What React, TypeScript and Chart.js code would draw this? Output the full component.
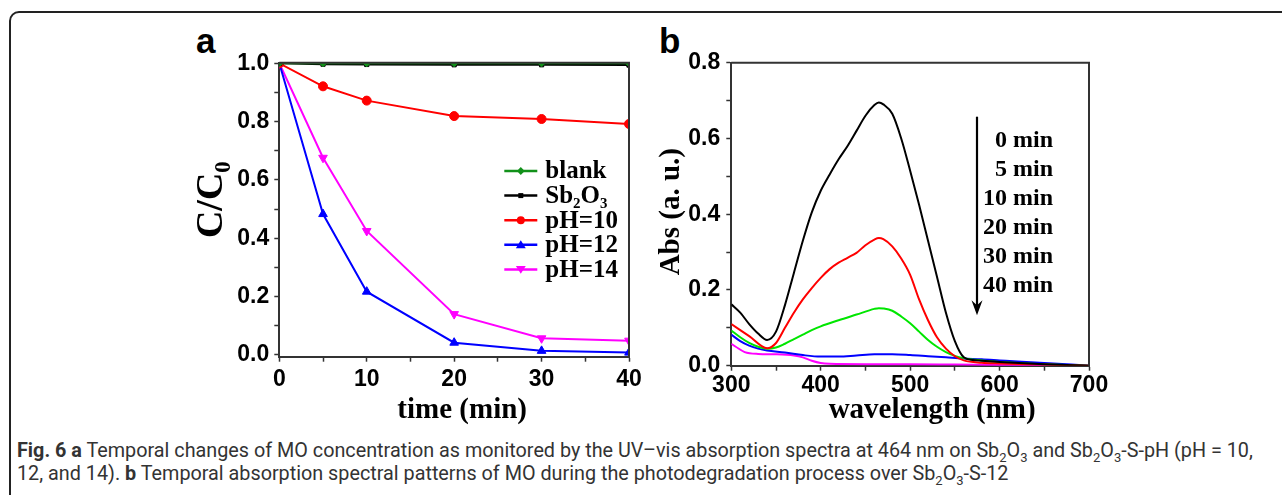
import React, { useEffect, useRef } from "react";
import { Chart, registerables } from "chart.js";

Chart.register(...registerables);

// ---------- Panel a data ----------
const timeMin = [0, 5, 10, 20, 30, 40];
const blank = [1.0, 1.0, 1.0, 1.0, 1.0, 1.0];
const sb2o3 = [1.0, 0.997, 0.996, 0.995, 0.995, 0.994];
const ph10 = [1.0, 0.921, 0.872, 0.819, 0.809, 0.792];
const ph12 = [1.0, 0.483, 0.217, 0.042, 0.014, 0.008];
const ph14 = [1.0, 0.676, 0.425, 0.14, 0.057, 0.049];
const seriesNamesA = ["blank", "Sb₂O₃", "pH=10", "pH=12", "pH=14"];
const yTicksA = [0, 0.1, 0.2, 0.3, 0.4, 0.5, 0.6, 0.7, 0.8, 0.9, 1.0];
const xTicksA = [0, 5, 10, 15, 20, 25, 30, 35, 40];
const xTitleA = "time (min)";
const yTitleA = "C/C₀";

// ---------- Panel b data ----------
const wl0 = [300, 310, 320, 330, 340, 350, 360, 370, 380, 390, 400, 410, 420, 430, 440, 450, 460, 465, 470, 480, 490, 500, 510, 520, 530, 540, 550, 560, 570, 580, 600, 650, 700];
const abs0 = [0.162, 0.14, 0.11, 0.085, 0.068, 0.09, 0.16, 0.245, 0.33, 0.405, 0.462, 0.505, 0.545, 0.58, 0.62, 0.66, 0.688, 0.695, 0.69, 0.665, 0.6, 0.515, 0.425, 0.33, 0.235, 0.14, 0.065, 0.022, 0.015, 0.013, 0.01, 0.004, 0.0];
const wl5 = [300, 320, 340, 350, 360, 370, 380, 390, 400, 410, 420, 430, 440, 450, 460, 465, 470, 480, 490, 500, 510, 520, 530, 540, 550, 560, 580, 600, 650, 700];
const abs5 = [0.11, 0.078, 0.046, 0.06, 0.1, 0.14, 0.175, 0.205, 0.232, 0.255, 0.272, 0.285, 0.298, 0.318, 0.333, 0.337, 0.334, 0.315, 0.283, 0.24, 0.175, 0.12, 0.075, 0.045, 0.025, 0.014, 0.008, 0.006, 0.003, 0.0];
const wl10 = [300, 310, 320, 330, 340, 350, 360, 370, 380, 390, 400, 420, 440, 460, 465, 470, 480, 490, 500, 510, 520, 530, 540, 550, 560, 580, 600, 650, 700];
const abs10 = [0.093, 0.075, 0.06, 0.05, 0.045, 0.048, 0.058, 0.07, 0.082, 0.094, 0.104, 0.12, 0.135, 0.15, 0.152, 0.151, 0.145, 0.13, 0.112, 0.09, 0.068, 0.05, 0.036, 0.026, 0.02, 0.014, 0.01, 0.004, 0.0];
const wl20 = [300, 310, 320, 330, 340, 360, 380, 400, 420, 440, 460, 480, 500, 520, 540, 560, 580, 600, 620, 650, 680, 700];
const abs20 = [0.082, 0.065, 0.053, 0.045, 0.04, 0.035, 0.028, 0.024, 0.024, 0.027, 0.03, 0.03, 0.028, 0.025, 0.022, 0.019, 0.017, 0.014, 0.011, 0.007, 0.003, 0.0];
const wl30 = [300, 305, 315, 330, 350, 370, 380, 390, 400, 410, 450, 500, 550, 600, 650, 700];
const abs30 = [0.058, 0.05, 0.036, 0.031, 0.03, 0.027, 0.022, 0.013, 0.007, 0.005, 0.004, 0.004, 0.003, 0.002, 0.001, 0.0];
const timeLabelsB = ["0 min", "5 min", "10 min", "20 min", "30 min", "40 min"];
const yTicksB = [0, 0.1, 0.2, 0.3, 0.4, 0.5, 0.6, 0.7, 0.8];
const xTicksB = [300, 350, 400, 450, 500, 550, 600, 650, 700];
const xTitleB = "wavelength (nm)";
const yTitleB = "Abs (a. u.)";

const AXIS = "#333333";
const TICK_FONT = { family: "'Liberation Sans', Arial, sans-serif", size: 23, weight: "bold" as const };
const SERIF = "'Liberation Serif', 'Times New Roman', serif";

const framePlugin = {
  id: "frame",
  afterDraw(chart: any) {
    const { ctx, chartArea: a } = chart;
    ctx.save();
    ctx.strokeStyle = AXIS;
    ctx.lineWidth = 2;
    ctx.beginPath();
    ctx.moveTo(a.left, a.top);
    ctx.lineTo(a.right, a.top);
    ctx.lineTo(a.right, a.bottom);
    ctx.stroke();
    ctx.restore();
  },
};

// axis titles placed relative to the chart area
type TitleSpec = { text: string; dx: number; dy: number; size: number; from: "bottom" | "left" };
const titlesPlugin = (specs: TitleSpec[]) => ({
  id: "axisTitles",
  afterDraw(chart: any) {
    const { ctx, chartArea: a } = chart;
    ctx.save();
    ctx.fillStyle = "#000";
    ctx.textAlign = "center";
    ctx.textBaseline = "middle";
    specs.forEach((s) => {
      ctx.font = `bold ${s.size}px ${SERIF}`;
      if (s.from === "bottom") {
        ctx.fillText(s.text, (a.left + a.right) / 2 + s.dx, a.bottom + s.dy);
      } else {
        ctx.save();
        ctx.translate(a.left + s.dx, a.top + s.dy);
        ctx.rotate(-Math.PI / 2);
        ctx.fillText(s.text, 0, 0);
        ctx.restore();
      }
    });
    ctx.restore();
  },
});

const setTicks = (values: number[]) => (scale: any) => {
  scale.ticks = values.map((v) => ({ value: v }));
};

function drawMarker(ctx: CanvasRenderingContext2D, style: string, rot: number, x: number, y: number, r: number) {
  ctx.save();
  ctx.translate(x, y);
  ctx.rotate((rot * Math.PI) / 180);
  ctx.beginPath();
  if (style === "circle") {
    ctx.arc(0, 0, r, 0, Math.PI * 2);
  } else if (style === "rect") {
    ctx.rect(-r, -r, 2 * r, 2 * r);
  } else if (style === "rectRot") {
    ctx.moveTo(0, -r * 1.3);
    ctx.lineTo(r * 1.3, 0);
    ctx.lineTo(0, r * 1.3);
    ctx.lineTo(-r * 1.3, 0);
    ctx.closePath();
  } else if (style === "triangle") {
    const h = r * 1.5;
    ctx.moveTo(0, -h * 0.66);
    ctx.lineTo(r * 1.1, h * 0.5);
    ctx.lineTo(-r * 1.1, h * 0.5);
    ctx.closePath();
  }
  ctx.fill();
  ctx.restore();
}

const axisCommon = {
  grid: { drawOnChartArea: false, color: AXIS, tickLength: 5, tickWidth: 1.5 },
  border: { color: AXIS, width: 2 },
};

function PanelA() {
  const ref = useRef<HTMLCanvasElement>(null);
  useEffect(() => {
    const legendPlugin = {
      id: "legendA",
      afterDraw(chart: any) {
        const { ctx, chartArea: a } = chart;
        ctx.save();
        const x0 = a.left + 225;
        const y0 = a.top + 108.3;
        chart.data.datasets.forEach((ds: any, i: number) => {
          const y = y0 + i * 24.6;
          ctx.strokeStyle = ds.borderColor;
          ctx.lineWidth = 2.5;
          ctx.beginPath();
          ctx.moveTo(x0, y);
          ctx.lineTo(x0 + 33, y);
          ctx.stroke();
          ctx.fillStyle = ds.borderColor;
          drawMarker(ctx, ds.pointStyle, ds.pointRotation || 0, x0 + 16.5, y, ds.pointRadius - 0.5);
          ctx.fillStyle = "#000";
          ctx.font = `bold 25px ${SERIF}`;
          ctx.textBaseline = "middle";
          ctx.textAlign = "left";
          ctx.fillText(seriesNamesA[i], x0 + 41, y + 1);
        });
        ctx.restore();
      },
    };
    const mk = (label: string, data: number[], color: string, style: string, r: number, rot = 0) => ({
      label,
      data: data.map((v, i) => ({ x: timeMin[i], y: v })),
      borderColor: color,
      backgroundColor: color,
      borderWidth: 2,
      pointStyle: style,
      pointRadius: r,
      pointRotation: rot,
      pointBorderWidth: 1,
    });
    const chart = new Chart(ref.current!, {
      type: "line",
      data: {
        datasets: [
          mk("blank", blank, "#12911a", "rectRot", 3.5),
          mk("Sb2O3", sb2o3, "#000000", "rect", 3),
          mk("pH=10", ph10, "#ff0000", "circle", 4.5),
          mk("pH=12", ph12, "#0000ff", "triangle", 5),
          mk("pH=14", ph14, "#ff00ff", "triangle", 5, 180),
        ],
      },
      options: {
        animation: false,
        responsive: false,
        devicePixelRatio: 1,
        layout: { padding: { top: 32.7, right: 21, left: 0, bottom: 0 } },
        plugins: { legend: { display: false }, tooltip: { enabled: false } },
        scales: {
          x: {
            ...axisCommon,
            type: "linear",
            min: 0,
            max: 40,
            afterFit: (s: any) => { s.height = 73.3; },
            afterBuildTicks: setTicks(xTicksA),
            ticks: {
              font: TICK_FONT,
              color: "#000",
              padding: 3.8,
              maxRotation: 0,
              autoSkip: false,
              callback: (v: any) => (Math.round(v) % 10 === 0 ? String(Math.round(v)) : ""),
            },
          },
          y: {
            ...axisCommon,
            type: "linear",
            min: -0.006,
            max: 1.002,
            afterFit: (s: any) => { s.width = 129.3; },
            afterBuildTicks: setTicks(yTicksA),
            ticks: {
              font: TICK_FONT,
              color: "#000",
              padding: 5,
              autoSkip: false,
              callback: (v: any) => (Math.round(v * 10) % 2 === 0 ? Number(v).toFixed(1) : ""),
            },
          },
        },
      },
      plugins: [
        framePlugin,
        legendPlugin,
        titlesPlugin([
          { text: xTitleA, dx: 8, dy: 53.5, size: 29, from: "bottom" },
          { text: yTitleA, dx: -67.5, dy: 137, size: 38, from: "left" },
        ]),
      ],
    } as any);
    return () => chart.destroy();
  }, []);
  return <canvas ref={ref} width={500} height={400} style={{ position: "absolute", left: 150, top: 30, width: 500, height: 400 }} />;
}

function PanelB() {
  const ref = useRef<HTMLCanvasElement>(null);
  useEffect(() => {
    const annot = {
      id: "annotB",
      afterDraw(chart: any) {
        const { ctx, chartArea: a } = chart;
        ctx.save();
        const ax = a.left + 245.7;
        const top = a.top + 54;
        const tip = a.top + 252.5;
        ctx.strokeStyle = "#000";
        ctx.fillStyle = "#000";
        ctx.lineWidth = 2.2;
        ctx.beginPath();
        ctx.moveTo(ax, top);
        ctx.lineTo(ax, tip - 4);
        ctx.stroke();
        ctx.beginPath();
        ctx.moveTo(ax, tip);
        ctx.lineTo(ax - 5.5, tip - 15);
        ctx.lineTo(ax, tip - 10);
        ctx.lineTo(ax + 5.5, tip - 15);
        ctx.closePath();
        ctx.fill();
        ctx.font = `bold 24px ${SERIF}`;
        ctx.textAlign = "right";
        ctx.textBaseline = "alphabetic";
        timeLabelsB.forEach((t, i) => {
          ctx.fillText(t, a.left + 321.7, a.top + 84 + i * 29);
        });
        ctx.restore();
      },
    };
    const mk = (label: string, xs: number[], ys: number[], color: string) => ({
      label,
      data: xs.map((x, i) => ({ x, y: ys[i] })),
      borderColor: color,
      backgroundColor: color,
      borderWidth: 2,
      pointRadius: 0,
      cubicInterpolationMode: "monotone",
    });
    const chart = new Chart(ref.current!, {
      type: "line",
      data: {
        datasets: [
          mk("0 min", wl0, abs0, "#000000"),
          mk("5 min", wl5, abs5, "#ff0000"),
          mk("10 min", wl10, abs10, "#00e600"),
          mk("20 min", wl20, abs20, "#0000ff"),
          mk("30 min", wl30, abs30, "#ff00ff"),
        ],
      },
      options: {
        animation: false,
        responsive: false,
        devicePixelRatio: 1,
        layout: { padding: { top: 32.7, right: 21, left: 0, bottom: 0 } },
        plugins: { legend: { display: false }, tooltip: { enabled: false } },
        scales: {
          x: {
            ...axisCommon,
            type: "linear",
            min: 300,
            max: 700,
            afterFit: (s: any) => { s.height = 64.3; },
            afterBuildTicks: setTicks(xTicksB),
            ticks: {
              font: TICK_FONT,
              color: "#000",
              padding: 1.2,
              maxRotation: 0,
              autoSkip: false,
              callback: (v: any) => (Math.round(v) % 100 === 0 ? String(Math.round(v)) : ""),
            },
          },
          y: {
            ...axisCommon,
            type: "linear",
            min: 0,
            max: 0.8,
            afterFit: (s: any) => { s.width = 91.3; },
            afterBuildTicks: setTicks(yTicksB),
            ticks: {
              font: TICK_FONT,
              color: "#000",
              padding: 6,
              autoSkip: false,
              callback: (v: any) => (Math.round(v * 10) % 2 === 0 ? Number(v).toFixed(1) : ""),
            },
          },
        },
      },
      plugins: [
        framePlugin,
        annot,
        titlesPlugin([
          { text: xTitleB, dx: 22, dy: 45.3, size: 29, from: "bottom" },
          { text: yTitleB, dx: -59.3, dy: 149, size: 29, from: "left" },
        ]),
      ],
    } as any);
    return () => chart.destroy();
  }, []);
  return <canvas ref={ref} width={470} height={400} style={{ position: "absolute", left: 640, top: 30, width: 470, height: 400 }} />;
}

export default function App() {
  const capFont = "Roboto, 'Liberation Sans', sans-serif";
  const sub = { fontSize: 13, lineHeight: 0 };
  return (
    <div style={{ position: "absolute", left: 0, top: 0, width: 1282, height: 495, background: "#fff", overflow: "hidden" }}>
      <div style={{ position: "absolute", left: 9, top: 11, width: 1300, height: 520, border: "2px solid #222", borderRadius: 10, boxSizing: "border-box" }} />
      <div style={{ position: "absolute", left: 196, top: 21, font: "bold 35px 'Liberation Sans', Arial, sans-serif", lineHeight: "40px" }}>a</div>
      <div style={{ position: "absolute", left: 659, top: 21, font: "bold 35px 'Liberation Sans', Arial, sans-serif", lineHeight: "40px" }}>b</div>
      <PanelA />
      <PanelB />
      <div style={{ position: "absolute", left: 17, top: 440, width: 1265, fontFamily: capFont, fontSize: 19.8, lineHeight: "22.5px", color: "#333" }}>
        <div style={{ whiteSpace: "nowrap" }}>
          <b>Fig. 6 a</b> Temporal changes of MO concentration as monitored by the UV–vis absorption spectra at 464 nm on Sb<sub style={sub}>2</sub>O<sub style={sub}>3</sub> and Sb<sub style={sub}>2</sub>O<sub style={sub}>3</sub>-S-pH (pH = 10,
        </div>
        <div style={{ whiteSpace: "nowrap" }}>
          12, and 14). <b>b</b> Temporal absorption spectral patterns of MO during the photodegradation process over Sb<sub style={sub}>2</sub>O<sub style={sub}>3</sub>-S-12
        </div>
      </div>
    </div>
  );
}
